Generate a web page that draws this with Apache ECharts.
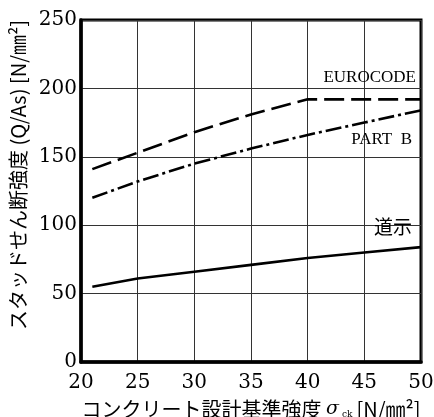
<!DOCTYPE html>
<html><head><meta charset="utf-8">
<script src="https://cdn.jsdelivr.net/npm/echarts@6/dist/echarts.min.js"></script>
<style>html,body{margin:0;padding:0;background:#fff}#c{width:434px;height:417px}</style>
</head><body><div id="c"></div>
<script>
const xTicks = [20, 25, 30, 35, 40, 45, 50];
const yTicks = [0, 50, 100, 150, 200, 250];
const euroX = [21, 25, 30, 35, 40, 45, 50];
const euroY = [141, 153, 168, 181, 192, 192, 192];
const partBX = [21, 25, 30, 35, 40, 45, 50];
const partBY = [120, 132, 145, 156, 166, 175, 184];
const doshiX = [21, 25, 30, 35, 40, 45, 50];
const doshiY = [55, 61, 66, 71, 76, 80, 84];
const seriesNames = ['EUROCODE', 'PART  B', '道示'];

const serif = '"DejaVu Serif", "Liberation Serif", serif';
const lserif = '"Liberation Serif", serif';
const cjk = '"Noto Sans CJK JP", sans-serif';

function mk(xs, ys, lbl) {
  return xs.map((x, i) => {
    const d = { value: [x, ys[i]] };
    if (i === xs.length - 1) d.label = lbl;
    return d;
  });
}

const chart = echarts.init(document.getElementById('c'), null, { renderer: 'canvas' });
chart.setOption({
  animation: false,
  backgroundColor: '#fff',
  grid: { left: 81, right: 13, top: 20, bottom: 55, containLabel: false, outerBoundsMode: 'none', show: true, borderColor: '#000', borderWidth: 3, backgroundColor: 'transparent' },
  xAxis: {
    type: 'value', min: xTicks[0], max: xTicks[xTicks.length - 1], interval: 5,
    axisLine: { show: true, lineStyle: { color: '#000', width: 3.5 } },
    axisTick: { show: false },
    axisLabel: { color: '#000', fontFamily: serif, fontSize: 20, margin: 11 },
    splitLine: { show: true, lineStyle: { color: '#333', width: 1 } },
    name: 'コンクリート設計基準強度 {s|σ}{sub|ck}[N/㎜²]',
    nameLocation: 'middle', nameGap: 37,
    nameTextStyle: {
      color: '#000', fontFamily: cjk, fontSize: 20,
      rich: {
        s: { fontFamily: serif, fontStyle: 'italic', fontSize: 19, color: '#000' },
        sub: { fontFamily: serif, fontSize: 9, color: '#000', verticalAlign: 'bottom', padding: [8, 4, 0, 3] }
      }
    }
  },
  yAxis: {
    type: 'value', min: yTicks[0], max: yTicks[yTicks.length - 1], interval: 50,
    axisLine: { show: true, lineStyle: { color: '#000', width: 3.5 } },
    axisTick: { show: false },
    axisLabel: { color: '#000', fontFamily: serif, fontSize: 20, margin: 4 },
    splitLine: { show: true, lineStyle: { color: '#333', width: 1 } },
    name: 'スタッドせん断強度 (Q/As) [N/㎜²]',
    nameLocation: 'middle', nameGap: 47, nameRotate: 90,
    nameTextStyle: { color: '#000', fontFamily: cjk, fontSize: 20, padding: [0, 0, 0, 32] }
  },
  series: [
    {
      name: seriesNames[0], type: 'line', symbolSize: 0.01, showSymbol: true,
      lineStyle: { color: '#000', width: 2.6, type: [20, 7] },
      itemStyle: { color: '#000' },
      data: mk(euroX, euroY, { show: true, formatter: seriesNames[0], position: 'top', align: 'right', offset: [-5, -7], color: '#000', fontFamily: lserif, fontSize: 17 })
    },
    {
      name: seriesNames[1], type: 'line', symbolSize: 0.01, showSymbol: true,
      lineStyle: { color: '#000', width: 2.6, type: [16, 4, 3, 4] },
      itemStyle: { color: '#000' },
      data: mk(partBX, partBY, { show: true, formatter: seriesNames[1], position: 'bottom', align: 'right', offset: [-9, 15], color: '#000', fontFamily: lserif, fontSize: 17 })
    },
    {
      name: seriesNames[2], type: 'line', symbolSize: 0.01, showSymbol: true,
      lineStyle: { color: '#000', width: 2.6, type: 'solid' },
      itemStyle: { color: '#000' },
      data: mk(doshiX, doshiY, { show: true, formatter: seriesNames[2], position: 'top', align: 'right', offset: [-9, -5], color: '#000', fontFamily: cjk, fontSize: 19 })
    }
  ]
});
</script>
</body></html>
